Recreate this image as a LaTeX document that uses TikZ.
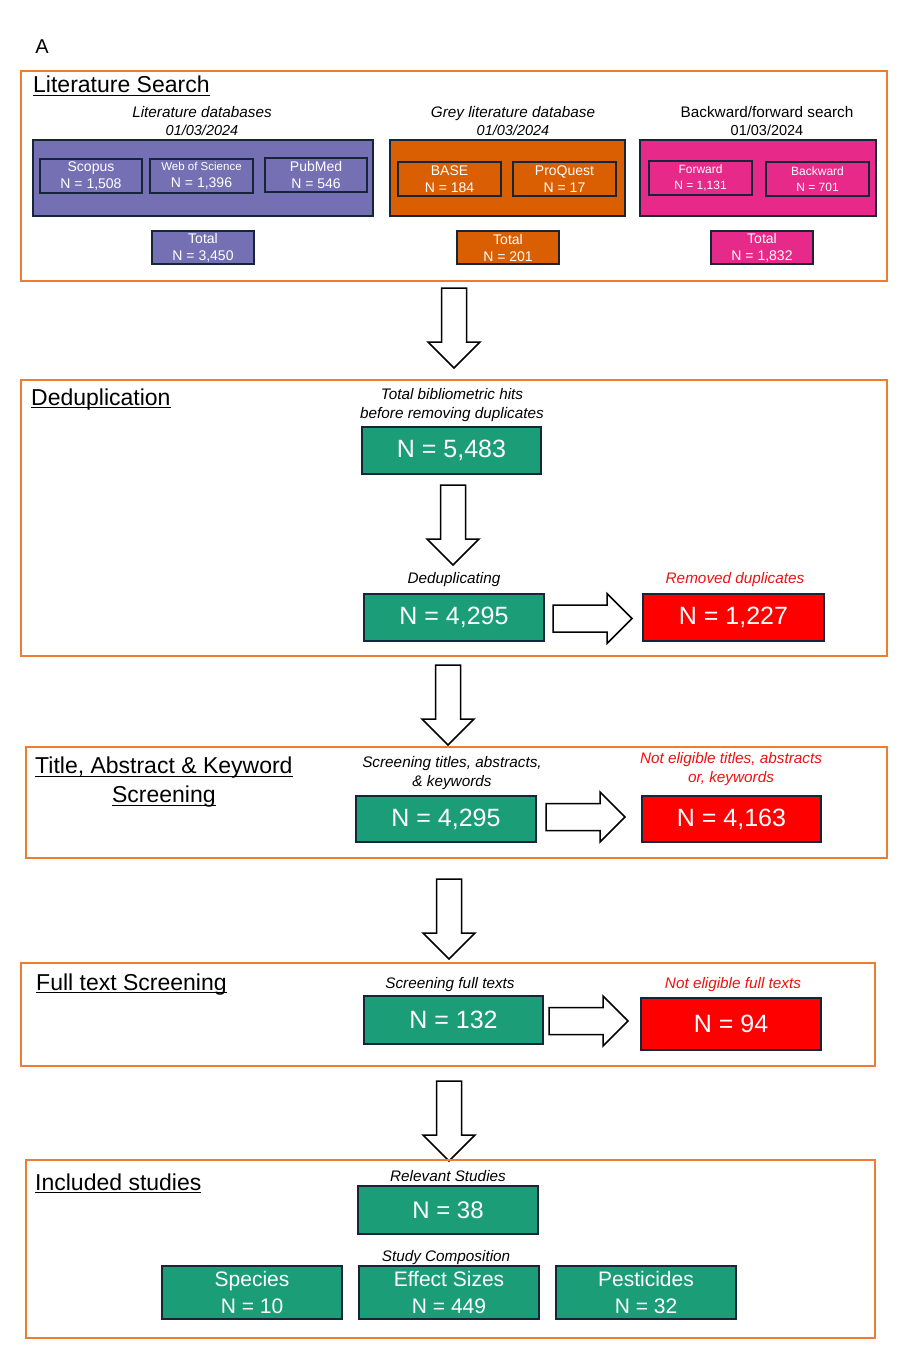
\documentclass[tikz,border=0pt]{standalone}
\usepackage{fontspec}
\setmainfont{Liberation Sans}
\definecolor{secorange}{HTML}{ED7D31}
\definecolor{boxpurple}{HTML}{7570B3}
\definecolor{boxorange}{HTML}{D95F02}
\definecolor{boxpink}{HTML}{E7298A}
\definecolor{boxgreen}{HTML}{1B9E77}
\definecolor{boxred}{HTML}{FF0000}
\definecolor{boxline}{HTML}{15263A}
\definecolor{labelred}{HTML}{EE1111}
\newcommand{\fs}[2]{\fontsize{#1}{#2}\selectfont}
\newcommand{\myul}[1]{\setbox0\hbox{#1}\rlap{\rule[-3.2pt]{\wd0}{1.4pt}}\box0}
\newcommand{\blkdown}[2]{%
  \draw[blkarrow] (#1-12.5,#2) -- (#1+12.5,#2) -- (#1+12.5,#2+54) -- (#1+26,#2+54)
    -- (#1,#2+80) -- (#1-26,#2+54) -- (#1-12.5,#2+54) -- cycle;}
\newcommand{\blkright}[2]{%
  \draw[blkarrow] (#1,#2-13.5) -- (#1+54,#2-13.5) -- (#1+54,#2-25) -- (#1+79,#2)
    -- (#1+54,#2+25) -- (#1+54,#2+13.5) -- (#1,#2+13.5) -- cycle;}
\begin{document}
\begin{tikzpicture}[x=1pt,y=-1pt,
  secbox/.style={draw=secorange,line width=2pt,rectangle,inner sep=0pt},
  bigbox/.style={draw=boxline,line width=2pt,rectangle,inner sep=0pt},
  subbox/.style={draw=boxline,line width=2pt,rectangle,inner sep=0pt,text=white,align=center},
  numbox/.style={draw=boxline,line width=1.6pt,rectangle,inner sep=0pt,text=white,align=center,fill=boxgreen,font=\fs{25}{30}},
  rednum/.style={numbox,fill=boxred},
  comp/.style={numbox,font=\fs{21}{27}},
  sectitle/.style={anchor=base west,inner sep=0pt,font=\fs{23}{29}},
  lab/.style={anchor=base,inner sep=0pt,font=\fs{15.3}{18}\itshape},
  redlab/.style={lab,text=labelred},
  blkarrow/.style={draw=black,line width=1.5pt,fill=white,line join=miter},
]
\useasboundingbox (0,0) rectangle (909,1356);

\node[anchor=base,inner sep=0pt,font=\fs{20}{24}] (lblA) at (42,54) {A};

% ---------------- Literature search
\node[secbox,minimum width=866,minimum height=210] (s1) at (454,176) {};
\node[sectitle] (t1) at (33,93) {\myul{Literature Search}};

\node[lab] (l1a) at (202,118) {Literature databases};
\node[lab,font=\fs{14.5}{18}\itshape] (l1b) at (202,136) {01/03/2024};
\node[lab] (l2a) at (513,118) {Grey literature database};
\node[lab,font=\fs{14.5}{18}\itshape] (l2b) at (513,136) {01/03/2024};
\node[lab,font=\fs{15.3}{18}] (l3a) at (767,118) {Backward/forward search};
\node[lab,font=\fs{14.5}{18}] (l3b) at (767,136) {01/03/2024};

\node[bigbox,fill=boxpurple,minimum width=340,minimum height=76] (gpur) at (203,178) {};
\node[subbox,fill=boxpurple,minimum width=102,minimum height=34,font=\fs{14}{17}] (scopus) at (91,176) {Scopus\\N = 1,508};
\node[subbox,fill=boxpurple,minimum width=103,minimum height=34,font=\fs{14}{17}] (wos) at (201.5,176) {{\fs{11.5}{17}Web of Science}\\N = 1,396};
\node[subbox,fill=boxpurple,minimum width=102,minimum height=34,font=\fs{14}{17}] (pubmed) at (316,175) {PubMed\\N = 546};
\node[subbox,fill=boxpurple,minimum width=102,minimum height=33,font=\fs{14}{17}] (tpur) at (203,247.5) {Total\\N = 3,450};

\node[bigbox,fill=boxorange,minimum width=235,minimum height=76] (gora) at (507.5,178) {};
\node[subbox,fill=boxorange,minimum width=103,minimum height=34,font=\fs{14}{17}] (base) at (449.5,179) {BASE\\N = 184};
\node[subbox,fill=boxorange,minimum width=103,minimum height=34,font=\fs{14}{17}] (proquest) at (564.5,179) {ProQuest\\N = 17};
\node[subbox,fill=boxorange,minimum width=102,minimum height=33,font=\fs{14}{17}] (tora) at (508,247.5) {Total\\N = 201};

\node[bigbox,fill=boxpink,minimum width=236,minimum height=76] (gpink) at (758,178) {};
\node[subbox,fill=boxpink,minimum width=103,minimum height=34,font=\fs{12}{16}] (forward) at (700.5,178) {Forward\\N = 1,131};
\node[subbox,fill=boxpink,minimum width=103,minimum height=34,font=\fs{12}{16}] (backward) at (817.5,179) {Backward\\N = 701};
\node[subbox,fill=boxpink,minimum width=102,minimum height=33,font=\fs{14}{17}] (tpink) at (762,247.5) {Total\\N = 1,832};

\blkdown{454}{288}

% ---------------- Deduplication
\node[secbox,minimum width=866,minimum height=276] (s2) at (454,518) {};
\node[sectitle] (t2) at (31,405) {\myul{Deduplication}};
\node[lab] (l4a) at (452,399) {Total bibliometric hits};
\node[lab] (l4b) at (452,418) {before removing duplicates};
\node[numbox,minimum width=179,minimum height=47] (n5483) at (451.5,450.5) {N = 5,483};
\blkdown{453}{485}
\node[lab] (l5) at (454,583) {Deduplicating};
\node[numbox,minimum width=180,minimum height=47] (n4295a) at (454,617.5) {N = 4,295};
\blkright{553}{618.5}
\node[redlab] (l6) at (735,583) {Removed duplicates};
\node[rednum,minimum width=181,minimum height=47] (n1227) at (733.5,617.5) {N = 1,227};

\blkdown{448}{665}

% ---------------- Title/abstract screening
\node[secbox,minimum width=861,minimum height=111] (s3) at (456.5,802.5) {};
\node[sectitle,anchor=north west,align=center] (t3) at (35,757) {\myul{Title, Abstract \& Keyword}\\\myul{Screening}};
\node[lab] (l7a) at (452,767) {Screening titles, abstracts,};
\node[lab] (l7b) at (452,786) {\& keywords};
\node[numbox,minimum width=180,minimum height=46] (n4295b) at (446,819) {N = 4,295};
\blkright{546}{817}
\node[redlab] (l8a) at (731,763) {Not eligible titles, abstracts};
\node[redlab] (l8b) at (731,782) {or, keywords};
\node[rednum,minimum width=179,minimum height=46] (n4163) at (731.5,819) {N = 4,163};

\blkdown{449}{879}

% ---------------- Full text screening
\node[secbox,minimum width=854,minimum height=103] (s4) at (448,1014.5) {};
\node[sectitle] (t4) at (36,990) {\myul{Full text Screening}};
\node[lab] (l9) at (450,988) {Screening full texts};
\node[numbox,minimum width=179,minimum height=48] (n132) at (453.5,1020) {N = 132};
\blkright{549}{1021}
\node[redlab] (l10) at (733,988) {Not eligible full texts};
\node[rednum,minimum width=180,minimum height=52] (n94) at (731,1024) {N = 94};

\blkdown{449}{1081}

% ---------------- Included studies
\node[secbox,minimum width=849,minimum height=178] (s5) at (450.5,1249) {};
\node[sectitle] (t5) at (35,1190) {\myul{Included studies}};
\node[lab] (l11) at (448,1181) {Relevant Studies};
\node[numbox,minimum width=180,minimum height=48,font=\fs{24}{29}] (n38) at (448,1210) {N = 38};
\node[lab] (l12) at (446,1261) {Study Composition};
\node[comp,minimum width=180,minimum height=53] (species) at (252,1292.5) {Species\\N = 10};
\node[comp,minimum width=180,minimum height=53] (effect) at (449,1292.5) {Effect Sizes\\N = 449};
\node[comp,minimum width=180,minimum height=53] (pest) at (646,1292.5) {Pesticides\\N = 32};
\end{tikzpicture}
\end{document}
